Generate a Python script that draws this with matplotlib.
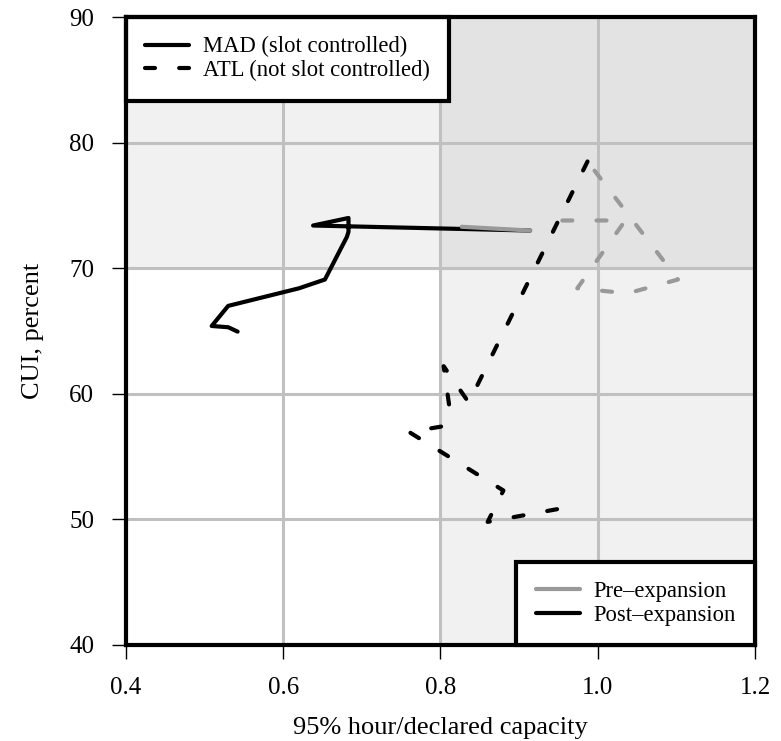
#!/usr/bin/env python3

import matplotlib.pyplot as plt
from matplotlib.lines import Line2D
import sys

# MAD (slot controlled)
mad_pre_x = [0.827, 0.914]
mad_pre_y = [73.3, 73.0]
mad_post_x = [0.914, 0.638, 0.683, 0.683, 0.681, 0.653, 0.620, 0.530, 0.509, 0.530, 0.542]
mad_post_y = [73.0, 73.4, 74.0, 72.9, 72.5, 69.1, 68.4, 67.0, 65.4, 65.3, 64.95]

# ATL (not slot controlled)
atl_pre_x = [0.955, 1.035, 0.974, 1.038, 1.102, 0.987]
atl_pre_y = [73.8, 73.8, 68.4, 68.0, 69.1, 78.5]
atl_post_x = [0.987, 0.836, 0.804, 0.811, 0.802, 0.760, 0.880, 0.860, 0.956]
atl_post_y = [78.5, 59.3, 62.2, 59.1, 57.4, 56.96, 52.3, 49.8, 50.9]

PRE = '#999999'
POST = 'black'
DASH = (0, (2.4, 5.8))


def main():
    plt.rcParams['font.family'] = 'Liberation Serif'
    fig = plt.figure(figsize=(7.81, 7.41), dpi=100)
    ax = fig.add_axes([0.1613, 0.1296, 0.8054, 0.8474])

    ax.axvspan(0.8, 1.2, color='black', alpha=0.055, lw=0, zorder=0)
    ax.axhspan(70, 90, color='black', alpha=0.055, lw=0, zorder=0)
    ax.grid(True, color='#c0c0c0', lw=2.2, zorder=1)
    ax.set_axisbelow(True)

    kw = dict(lw=3, solid_capstyle='round', dash_capstyle='round',
              solid_joinstyle='round', dash_joinstyle='round', zorder=3)
    ax.plot(atl_post_x, atl_post_y, color=POST, linestyle=DASH, **kw)
    ax.plot(atl_pre_x, atl_pre_y, color=PRE, linestyle=DASH, **kw)
    ax.plot(mad_post_x, mad_post_y, color=POST, **kw)
    ax.plot(mad_pre_x, mad_pre_y, color=PRE, **kw)

    ax.set_xlim(0.4, 1.2)
    ax.set_ylim(40, 90)
    ax.set_xticks([0.4, 0.6, 0.8, 1.0, 1.2])
    ax.set_yticks([40, 50, 60, 70, 80, 90])
    ax.tick_params(labelsize=18, length=10, width=1, pad=13)
    for s in ax.spines.values():
        s.set_linewidth(3)
        s.set_zorder(5)

    ax.set_xlabel('95% hour/declared capacity', fontsize=19, labelpad=13)
    ax.set_ylabel('CUI, percent', fontsize=19, labelpad=18)

    lkw = dict(fancybox=False, framealpha=1, edgecolor='black', fontsize=16.3,
               handlelength=1.95, handletextpad=0.6, labelspacing=0.12,
               borderpad=0.85, borderaxespad=0)

    h1 = [Line2D([], [], color='black', lw=3, solid_capstyle='round'),
          Line2D([], [], color='black', lw=3, linestyle=DASH,
                 dash_capstyle='round')]
    leg1 = ax.legend(h1, ['MAD (slot controlled)', 'ATL (not slot controlled)'],
                     loc='upper left', bbox_to_anchor=(0, 1), **lkw)
    leg1.get_frame().set_linewidth(3)
    ax.add_artist(leg1)

    h2 = [Line2D([], [], color=PRE, lw=3, solid_capstyle='round'),
          Line2D([], [], color=POST, lw=3, solid_capstyle='round')]
    leg2 = ax.legend(h2, ['Pre\u2013expansion', 'Post\u2013expansion'],
                     loc='lower right', bbox_to_anchor=(1, 0), **lkw)
    leg2.get_frame().set_linewidth(3)

    fig.savefig('out.png', dpi=100)


if __name__ == '__main__':
    sys.exit(main())
